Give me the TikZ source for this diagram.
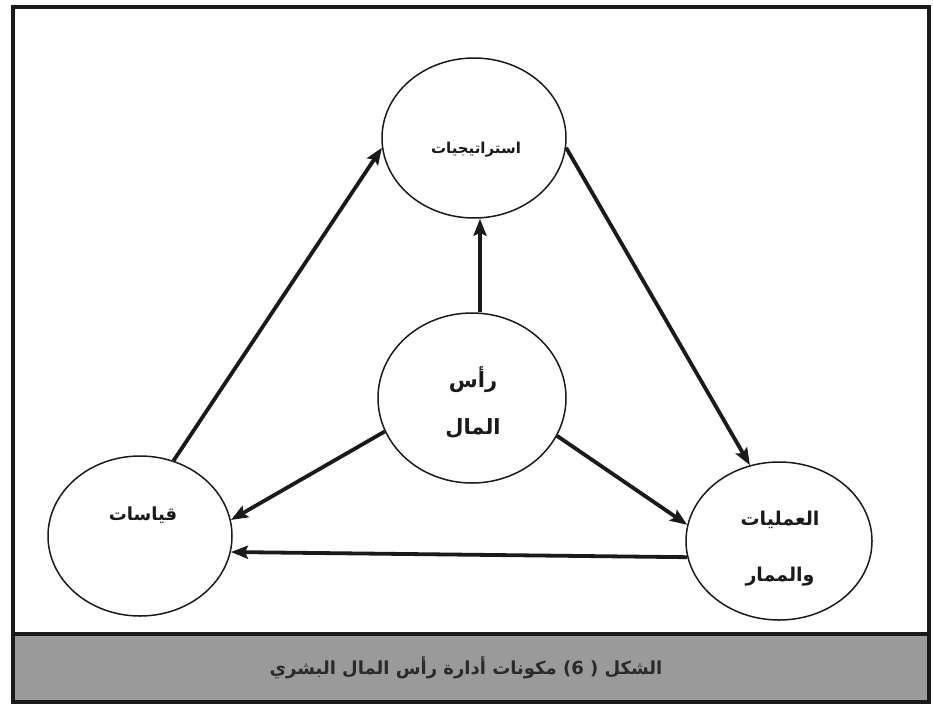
\documentclass[tikz,border=0pt]{standalone}
\usepackage{fontspec}
\usetikzlibrary{shapes.geometric,arrows.meta}
\TeXXeTstate=1
\newfontfamily\arabicfont[Script=Arabic]{DejaVu Sans}
\definecolor{bandgray}{HTML}{9A9A9A}
\definecolor{inkc}{HTML}{1A1A1A}
\definecolor{captxt}{HTML}{2A2A2A}
\tikzset{
  bubble/.style={draw=inkc, line width=1.5pt, ellipse, inner sep=0pt, fill=white},
  flow/.style={draw=inkc, line width=3.8pt, -{Stealth[length=17pt,width=13pt,inset=3pt]}},
  lbl/.style={font=\arabicfont\bfseries, text=inkc, inner sep=0pt, anchor=center}
}
\begin{document}
\begin{tikzpicture}[x=1pt,y=-1pt]
\useasboundingbox (0,0) rectangle (933,712);
\fill[white] (0,0) rectangle (933,712);
% caption band
\fill[bandgray] (13,634) rectangle (929,702);
\draw[inkc, line width=3.5pt] (13,634) -- (929,634);
\draw[inkc, line width=3.5pt] (13,7) rectangle (929,702);

% bubbles
\node[bubble, minimum width=184pt, minimum height=160pt] (T) at (474,138) {};
\node[bubble, minimum width=188pt, minimum height=170pt] (C) at (472,398) {};
\node[bubble, minimum width=184pt, minimum height=160pt] (L) at (140,536) {};
\node[bubble, minimum width=186pt, minimum height=158pt] (R) at (779,541) {};

% labels
\node[lbl, font=\arabicfont\bfseries\fontsize{15}{15}\selectfont] (tT) at (476,150) {\beginR استراتيجيات\endR};
\node[lbl, font=\arabicfont\bfseries\fontsize{21}{21}\selectfont] (tC1) at (473,380) {\beginR رأس\endR};
\node[lbl, font=\arabicfont\bfseries\fontsize{21}{21}\selectfont] (tC2) at (473,428) {\beginR المال\endR};
\node[lbl, font=\arabicfont\bfseries\fontsize{18}{18}\selectfont] (tL) at (143,515) {\beginR قياسات\endR};
\node[lbl, font=\arabicfont\bfseries\fontsize{19}{19}\selectfont] (tR1) at (780,520) {\beginR العمليات\endR};
\node[lbl, font=\arabicfont\bfseries\fontsize{19}{19}\selectfont] (tR2) at (780,577) {\beginR والممار\endR};

% connectors
\draw[flow] ([xshift=8pt]C.north) -- ([xshift=6pt]T.south);
\draw[flow] (L.66) -- (T.186);
\draw[flow] (T.354) -- (R.111);
\draw[flow] (C.201) -- (L.10);
\draw[flow] (C.336) -- (R.170);
\draw[flow] (R.190) -- (L.350);

% caption
\node[lbl, font=\arabicfont\bfseries\fontsize{18}{18}\selectfont, text=captxt] (cap) at (466,668) {\beginR الشكل ( 6) مكونات أدارة رأس المال البشري\endR};
\end{tikzpicture}
\end{document}
